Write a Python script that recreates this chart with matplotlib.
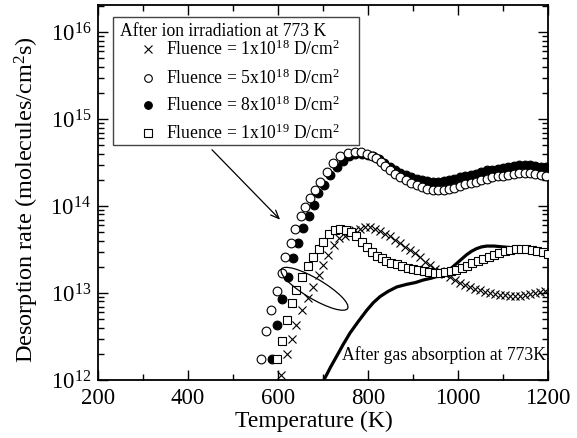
import numpy as np
import matplotlib
matplotlib.use("Agg")
import matplotlib.pyplot as plt
from matplotlib.lines import Line2D
from matplotlib.patches import Rectangle, Ellipse
from matplotlib.ticker import MultipleLocator, LogLocator, NullFormatter

plt.rcParams['font.family'] = ['Liberation Serif', 'DejaVu Serif']
plt.rcParams['mathtext.fontset'] = 'custom'
plt.rcParams['mathtext.rm'] = 'Liberation Serif'
plt.rcParams['mathtext.it'] = 'Liberation Serif:italic'
plt.rcParams['mathtext.bf'] = 'Liberation Serif:bold'

# values, log10 of desorption rate (molecules/cm^2 s)
# fluence 1x10^18 (crosses)
T_1e18 = [607, 619, 630, 641, 653, 667, 677, 690, 701, 712, 725, 736, 748, 760,
          771, 782, 793, 804, 815, 826, 838, 849, 860, 871, 882, 893, 904, 915,
          926, 938, 949, 960, 971, 982, 993, 1004, 1016, 1027, 1038, 1049, 1060,
          1071, 1082, 1094, 1105, 1116, 1127, 1138, 1149, 1160, 1171, 1182, 1193]
logR_1e18 = [12.06, 12.30, 12.47, 12.63, 12.80, 12.94, 13.07, 13.21, 13.32, 13.44,
             13.55, 13.63, 13.66, 13.69, 13.72, 13.74, 13.76, 13.76, 13.74, 13.71,
             13.68, 13.65, 13.61, 13.57, 13.53, 13.50, 13.46, 13.41, 13.36, 13.32,
             13.28, 13.25, 13.22, 13.18, 13.15, 13.12, 13.09, 13.07, 13.05, 13.03,
             13.01, 13.00, 12.99, 12.98, 12.98, 12.97, 12.97, 12.97, 12.98, 12.99,
             13.00, 13.01, 13.02]

# fluence 5x10^18 (open circles)
T_5e18 = [562, 573, 584, 597, 608, 616, 629, 638, 650, 660, 671, 682, 693, 708,
          722, 738, 756, 770, 784, 797, 808, 818, 828, 838, 849, 860, 872, 884,
          896, 908, 920, 932, 944, 956, 968, 980, 992, 1004, 1016, 1028, 1040,
          1052, 1064, 1076, 1088, 1100, 1112, 1124, 1136, 1148, 1160, 1172, 1184, 1196]
logR_5e18 = [12.24, 12.56, 12.80, 13.02, 13.23, 13.42, 13.58, 13.74, 13.88, 13.99,
             14.09, 14.18, 14.28, 14.39, 14.49, 14.57, 14.61, 14.62, 14.62, 14.60,
             14.58, 14.55, 14.51, 14.46, 14.41, 14.37, 14.33, 14.30, 14.27, 14.24,
             14.22, 14.20, 14.19, 14.18, 14.19, 14.20, 14.21, 14.23, 14.25, 14.27,
             14.28, 14.30, 14.31, 14.33, 14.34, 14.35, 14.36, 14.37, 14.38, 14.38,
             14.38, 14.37, 14.36, 14.35]

# fluence 8x10^18 (filled circles)
T_8e18 = [586, 597, 608, 623, 633, 644, 656, 669, 680, 689, 702, 716, 730, 744,
          758, 772, 786, 800, 812, 824, 836, 848, 860, 872, 884, 896, 908, 920,
          932, 944, 956, 968, 980, 992, 1004, 1016, 1028, 1040, 1052, 1064, 1076,
          1088, 1100, 1112, 1124, 1136, 1148, 1160, 1172, 1184, 1196]
logR_8e18 = [12.24, 12.63, 12.93, 13.19, 13.40, 13.57, 13.75, 13.88, 14.01, 14.15,
             14.24, 14.36, 14.45, 14.52, 14.57, 14.60, 14.60, 14.59, 14.57, 14.54,
             14.50, 14.45, 14.41, 14.38, 14.36, 14.33, 14.31, 14.30, 14.29, 14.28,
             14.28, 14.29, 14.30, 14.31, 14.33, 14.34, 14.36, 14.37, 14.39, 14.41,
             14.42, 14.43, 14.44, 14.45, 14.46, 14.47, 14.47, 14.47, 14.46, 14.45, 14.45]

# fluence 1x10^19 (open squares)
T_1e19 = [597, 608, 619, 630, 641, 653, 666, 678, 690, 701, 714, 726, 738, 750,
          762, 774, 786, 797, 808, 819, 830, 841, 852, 864, 876, 888, 900, 912,
          924, 936, 948, 960, 972, 984, 996, 1008, 1020, 1032, 1044, 1056, 1068,
          1080, 1092, 1104, 1116, 1128, 1140, 1152, 1164, 1176, 1188, 1200]
logR_1e19 = [12.24, 12.45, 12.69, 12.88, 13.04, 13.19, 13.31, 13.41, 13.51, 13.59,
             13.68, 13.72, 13.74, 13.73, 13.70, 13.65, 13.59, 13.53, 13.47, 13.43,
             13.40, 13.37, 13.35, 13.33, 13.31, 13.29, 13.28, 13.26, 13.25, 13.24,
             13.23, 13.23, 13.24, 13.25, 13.27, 13.29, 13.31, 13.34, 13.37, 13.39,
             13.42, 13.44, 13.46, 13.48, 13.50, 13.51, 13.51, 13.51, 13.50, 13.48,
             13.47, 13.45]

# after gas absorption (solid line)
T_gas = [702, 717, 730, 745, 760, 778, 797, 812, 827, 845, 864, 886, 905, 923,
         940, 953, 965, 975, 986, 997, 1008, 1019, 1030, 1041, 1052, 1064, 1080,
         1101, 1122, 1145, 1170, 1190, 1200]
logR_gas = [12.00, 12.15, 12.27, 12.41, 12.54, 12.67, 12.80, 12.89, 12.96, 13.02,
            13.07, 13.10, 13.12, 13.15, 13.17, 13.19, 13.22, 13.25, 13.29, 13.34,
            13.39, 13.44, 13.48, 13.51, 13.53, 13.54, 13.54, 13.53, 13.52, 13.51,
            13.49, 13.48, 13.48]

legend_title = 'After ion irradiation at 773 K'
legend_labels = [r'Fluence = 1x10$^{18}$ D/cm$^{2}$',
                 r'Fluence = 5x10$^{18}$ D/cm$^{2}$',
                 r'Fluence = 8x10$^{18}$ D/cm$^{2}$',
                 r'Fluence = 1x10$^{19}$ D/cm$^{2}$']

W, H = 577, 438
fig = plt.figure(figsize=(W / 100, H / 100), dpi=100)
ax = fig.add_axes([98 / W, 1 - 380 / H, 450 / W, 375 / H])


def fpx(x, y):
    # figure pixel (from top-left) -> figure fraction
    return x / W, 1 - y / H


ms = 6.3
ax.plot(T_gas, 10 ** np.array(logR_gas), color='black', lw=2.3, zorder=2)
ax.plot(T_1e18, 10 ** np.array(logR_1e18), ls='none', marker='x', ms=ms,
        mew=0.8, color='black', zorder=3)
ax.plot(T_8e18, 10 ** np.array(logR_8e18), ls='none', marker='o', ms=ms,
        mew=0.8, mfc='black', mec='black', zorder=3)
ax.plot(T_5e18, 10 ** np.array(logR_5e18), ls='none', marker='o', ms=ms,
        mew=0.8, mfc='white', mec='black', zorder=4)
ax.plot(T_1e19, 10 ** np.array(logR_1e19), ls='none', marker='s', ms=5.7,
        mew=0.8, mfc='white', mec='black', zorder=4)

ax.set_yscale('log')
ax.set_xlim(200, 1200)
ax.set_ylim(1e12, 2.05e16)
ax.xaxis.set_major_locator(MultipleLocator(200))
ax.xaxis.set_minor_locator(MultipleLocator(100))
ax.yaxis.set_major_locator(LogLocator(base=10, numticks=10))
ax.yaxis.set_minor_locator(LogLocator(base=10, subs=np.arange(2, 10), numticks=50))
ax.yaxis.set_minor_formatter(NullFormatter())
ax.tick_params(which='both', direction='in', top=True, right=True, width=1)
ax.tick_params(which='major', length=7)
ax.tick_params(axis='x', which='major', pad=5.5, labelsize=16.5)
ax.tick_params(axis='y', which='major', pad=5, labelsize=16.5)
ax.tick_params(which='minor', length=4)
for s in ax.spines.values():
    s.set_linewidth(1.3)

fig.text(*fpx(314, 421), 'Temperature (K)', fontsize=17, ha='center', va='center')
fig.text(*fpx(27, 200), 'Desorption rate (molecules/cm$^{2}$s)', fontsize=17.5,
         rotation=90, ha='center', va='center')

# legend box drawn by hand
x0, y0 = fpx(113, 145)
x1, y1 = fpx(359, 17)
fig.add_artist(Rectangle((x0, y0), x1 - x0, y1 - y0, transform=fig.transFigure,
                         fill=True, facecolor='white', edgecolor='#444444', lw=1.0,
                         zorder=5))
fig.text(*fpx(120, 31), legend_title, fontsize=12.7, ha='left', va='center', zorder=6)
row_y = [49, 78, 105, 133]
styles = [dict(marker='x', mfc='black'), dict(marker='o', mfc='white'),
          dict(marker='o', mfc='black'), dict(marker='s', mfc='white')]
for yy, lab, st in zip(row_y, legend_labels, styles):
    mx, my = fpx(148, yy)
    fig.add_artist(Line2D([mx], [my], transform=fig.transFigure, ls='none',
                          ms=5.5, mew=0.8, mec='black', color='black', zorder=6, **st))
    fig.text(*fpx(166, yy), lab, fontsize=12.7, ha='left', va='center', zorder=6)

ax.annotate('', xy=(609, 10 ** 13.82), xytext=(449, 10 ** 14.67),
            arrowprops=dict(arrowstyle='->,head_length=0.6,head_width=0.25',
                            color='black', lw=0.9))

ex, ey = fpx(314.5, 288.8)
ax.add_patch(Ellipse((ex * W / 100, ey * H / 100), 0.77, 0.20, angle=-30.7,
                     transform=fig.dpi_scale_trans, fill=False, edgecolor='black',
                     lw=0.9, zorder=5))

ax.text(743, 10 ** 12.29, 'After gas absorption at 773K', fontsize=12.7,
        ha='left', va='center')

fig.savefig('out.png', dpi=100)
